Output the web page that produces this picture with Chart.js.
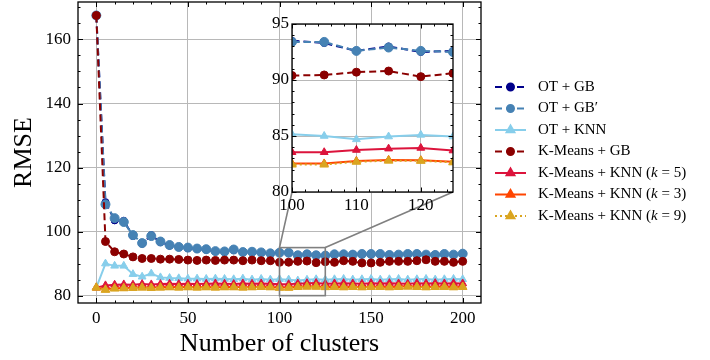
<!DOCTYPE html>
<html>
<head>
<meta charset="utf-8">
<script src="https://cdn.jsdelivr.net/npm/chart.js@4.4.1/dist/chart.umd.min.js"></script>
<style>
    html, body { margin: 0; padding: 0; background: #fff; overflow: hidden; }
    #wrap { position: relative; width: 710px; height: 360px; overflow: hidden; }
    #main { position: absolute; left: 0; top: -4px; }
    #inset { position: absolute; left: 252px; top: 8px; }
</style>
</head>
<body>
<div id="wrap">
    <canvas id="main" width="710" height="364"></canvas>
    <canvas id="inset" width="210" height="212"></canvas>
</div>
<script>
// number of clusters (x values)
const clusters = [0, 5, 10, 15, 20, 25, 30, 35, 40, 45, 50, 55, 60, 65, 70, 75, 80, 85, 90, 95,
    100, 105, 110, 115, 120, 125, 130, 135, 140, 145, 150, 155, 160, 165, 170, 175, 180, 185, 190, 195, 200];

const otGb = [167.5, 109.2, 103.5, 103.4, 98.6, 96.2, 98.9, 96.7, 95.6, 95.1, 94.8, 94.6, 94.3, 93.8, 93.6, 94.2, 93.5, 93.6, 93.4, 93.1,
    93.5, 93.3, 92.6, 93.0, 92.5, 92.6, 92.8, 92.8, 92.9, 92.9, 92.9, 92.9, 92.8, 92.7, 92.9, 92.9, 92.7, 92.8, 92.9, 92.7, 93.0];
const otGbPrime = [167.5, 108.5, 104.2, 103.0, 98.9, 96.4, 98.6, 96.9, 95.8, 95.2, 95.0, 94.7, 94.5, 93.9, 93.8, 94.4, 93.6, 93.7, 93.5, 93.2,
    93.4, 93.4, 92.6, 92.9, 92.6, 92.5, 92.9, 92.9, 92.8, 93.0, 93.0, 93.0, 92.7, 92.8, 93.0, 93.0, 92.8, 92.7, 93.0, 92.8, 93.1];
const otKnn = [82.5, 90.0, 89.3, 89.3, 86.7, 85.9, 86.9, 85.7, 85.5, 85.4, 85.3, 85.3, 85.2, 85.3, 85.2, 85.1, 85.3, 85.0, 85.2, 85.0,
    85.15, 85.0, 84.7, 84.95, 85.1, 84.95, 85.1, 85.2, 85.0, 85.1, 85.2, 85.0, 85.1, 85.2, 85.0, 85.1, 85.2, 85.0, 85.1, 85.2, 85.1];
const kmGb = [167.5, 96.9, 93.7, 93.0, 92.1, 91.6, 91.6, 91.4, 91.4, 91.3, 91.1, 91.0, 91.1, 91.0, 91.1, 91.1, 90.9, 91.1, 90.9, 90.9,
    90.4, 90.45, 90.7, 90.8, 90.3, 90.6, 90.4, 90.9, 90.7, 90.2, 90.2, 90.4, 90.7, 90.7, 90.7, 90.9, 91.2, 90.7, 90.7, 90.4, 90.7];
const kmKnn5 = [82.5, 83.2, 83.4, 83.5, 83.4, 83.6, 83.5, 83.6, 83.7, 83.6, 83.7, 83.6, 83.7, 83.8, 83.7, 83.6, 83.8, 83.7, 83.8, 83.7,
    83.55, 83.55, 83.75, 83.87, 83.93, 83.7, 83.8, 83.9, 83.8, 83.7, 83.9, 83.8, 83.9, 83.8, 83.7, 83.9, 83.8, 83.9, 83.8, 83.9, 83.8];
const kmKnn3 = [82.5, 82.0, 82.3, 82.4, 82.5, 82.6, 82.5, 82.6, 82.7, 82.6, 82.7, 82.6, 82.7, 82.6, 82.7, 82.7, 82.6, 82.7, 82.8, 82.7,
    82.55, 82.55, 82.77, 82.86, 82.83, 82.7, 82.8, 82.7, 82.8, 82.7, 82.8, 82.8, 82.7, 82.8, 82.9, 82.8, 82.7, 82.8, 82.8, 82.7, 82.8];
const kmKnn9 = [82.5, 81.8, 82.2, 82.3, 82.4, 82.5, 82.4, 82.5, 82.6, 82.5, 82.6, 82.5, 82.6, 82.5, 82.6, 82.6, 82.5, 82.6, 82.7, 82.6,
    82.45, 82.45, 82.7, 82.8, 82.78, 82.65, 82.7, 82.6, 82.7, 82.6, 82.7, 82.7, 82.6, 82.7, 82.8, 82.7, 82.6, 82.7, 82.7, 82.6, 82.7];

// tick labels
const xTicks = [0, 50, 100, 150, 200];
const yTicks = [80, 100, 120, 140, 160];
const insetXTicks = [100, 110, 120];
const insetYTicks = [80, 85, 90, 95];

// legend labels (pieces: [text, italic?])
const seriesNames = [
    [['OT + GB']],
    [['OT + GB\u2032']],
    [['OT + KNN']],
    [['K-Means + GB']],
    [['K-Means + KNN ('], ['k', true], [' = 5)']],
    [['K-Means + KNN ('], ['k', true], [' = 3)']],
    [['K-Means + KNN ('], ['k', true], [' = 9)']]
];

const serif = "'Liberation Serif', 'DejaVu Serif', serif";

const series = [
    { values: otGb, color: '#00008B', dash: [7, 4], marker: 'circle', r: 3.5 },
    { values: otGbPrime, color: '#4682B4', dash: [7, 4], marker: 'circle', r: 4.5 },
    { values: otKnn, color: '#87CEEB', dash: [], marker: 'triangle', r: 4.5 },
    { values: kmGb, color: '#8B0000', dash: [7, 4], marker: 'circle', r: 4 },
    { values: kmKnn5, color: '#DC143C', dash: [], marker: 'triangle', r: 4.5 },
    { values: kmKnn3, color: '#FF4500', dash: [], marker: 'triangle', r: 4.5 },
    { values: kmKnn9, color: '#DAA520', dash: [2, 3], marker: 'triangle', r: 5 }
];

function makeDatasets() {
    return series.map((s, i) => ({
        data: clusters.map((c, j) => ({ x: c, y: s.values[j] })),
        borderColor: s.color,
        backgroundColor: s.color,
        borderWidth: 2,
        borderDash: s.dash,
        pointStyle: s.marker,
        pointRadius: s.r,
        pointBackgroundColor: s.color,
        pointBorderColor: s.color,
        pointBorderWidth: 1,
        tension: 0,
        order: series.length - 1 - i // later series on top, like matplotlib
    }));
}

// inward ticks on all four sides + black frame
function inwardTicks(xMinor, yMinor, majorLen, minorLen) {
    return {
        id: 'inwardTicks',
        afterDraw(chart) {
            const { ctx, chartArea: a, scales: { x, y } } = chart;
            ctx.save();
            ctx.strokeStyle = '#000';
            ctx.lineWidth = 1;
            ctx.beginPath();
            const xs = x.ticks.map(t => [t.value, majorLen]).concat(xMinor.map(v => [v, minorLen]));
            xs.forEach(([v, len]) => {
                const px = Math.round(x.getPixelForValue(v)) + 0.5;
                ctx.moveTo(px, a.bottom); ctx.lineTo(px, a.bottom - len);
                ctx.moveTo(px, a.top); ctx.lineTo(px, a.top + len);
            });
            const ys = y.ticks.map(t => [t.value, majorLen]).concat(yMinor.map(v => [v, minorLen]));
            ys.forEach(([v, len]) => {
                const py = Math.round(y.getPixelForValue(v)) + 0.5;
                ctx.moveTo(a.left, py); ctx.lineTo(a.left + len, py);
                ctx.moveTo(a.right, py); ctx.lineTo(a.right - len, py);
            });
            ctx.stroke();
            ctx.lineWidth = 1.3;
            ctx.strokeRect(a.left, a.top, a.right - a.left, a.bottom - a.top);
            ctx.restore();
        }
    };
}

const mainXMinor = [10, 20, 30, 40, 60, 70, 80, 90, 110, 120, 130, 140, 160, 170, 180, 190];
const mainYMinor = [85, 90, 95, 105, 110, 115, 125, 130, 135, 145, 150, 155, 165, 170];
const insetXMinor = [102, 104, 106, 108, 112, 114, 116, 118, 122, 124];
const insetYMinor = [81, 82, 83, 84, 86, 87, 88, 89, 91, 92, 93, 94];

function scaleOpts(min, max, tickVals, fitSize, isX, padding) {
    return {
        type: 'linear', min: min, max: max,
        afterBuildTicks: s => { s.ticks = tickVals.map(v => ({ value: v })); },
        afterFit: s => {
            if (isX) { s.height = fitSize; } else { s.width = fitSize; }
            s.paddingTop = 0; s.paddingBottom = 0; s.paddingLeft = 0; s.paddingRight = 0;
        },
        grid: { color: '#b8b8b8', lineWidth: 1, drawTicks: false },
        border: { display: false },
        ticks: { color: '#000', font: { family: serif, size: 17 }, padding: padding, autoSkip: false, maxRotation: 0 }
    };
}

// inset chart (created first so the main chart can find its corners)
const whiteArea = {
    id: 'whiteArea',
    beforeDraw(chart) {
        const a = chart.chartArea;
        chart.ctx.save();
        chart.ctx.fillStyle = '#fff';
        chart.ctx.fillRect(a.left, a.top, a.right - a.left, a.bottom - a.top);
        chart.ctx.restore();
    }
};

const insetChart = new Chart(document.getElementById('inset'), {
    type: 'line',
    data: { datasets: makeDatasets() },
    options: {
        responsive: false,
        animation: false,
        events: [],
        devicePixelRatio: 1,
        layout: { padding: { top: 16, right: 9, left: 0, bottom: 0 } },
        plugins: { legend: { display: false }, tooltip: { enabled: false } },
        scales: {
            x: scaleOpts(100, 125, insetXTicks, 28, true, 3),
            y: scaleOpts(80, 95, insetYTicks, 40, false, 3)
        }
    },
    plugins: [whiteArea, inwardTicks(insetXMinor, insetYMinor, 4.5, 2.5)]
});

// zoom rectangle + connectors + side legend
const overlay = {
    id: 'overlay',
    afterDatasetsDraw(chart) {
        const { ctx, scales: { x, y } } = chart;
        const l = x.getPixelForValue(100), r = x.getPixelForValue(125);
        const t = y.getPixelForValue(95), b = y.getPixelForValue(80);
        const cv = document.getElementById('inset');
        const dy = cv.offsetTop - chart.canvas.offsetTop;
        const ia = insetChart.chartArea;
        ctx.save();
        ctx.strokeStyle = '#808080';
        ctx.lineWidth = 1.6;
        ctx.strokeRect(l, t, r - l, b - t);
        ctx.beginPath();
        ctx.moveTo(l, t); ctx.lineTo(cv.offsetLeft + ia.left, dy + ia.bottom);
        ctx.moveTo(r, t); ctx.lineTo(cv.offsetLeft + ia.right, dy + ia.bottom);
        ctx.stroke();
        ctx.restore();
    },
    afterDraw(chart) {
        const ctx = chart.ctx;
        const top = 87 - chart.canvas.offsetTop;
        series.forEach((s, i) => {
            const y = top + i * 21.5;
            ctx.save();
            ctx.strokeStyle = s.color;
            ctx.fillStyle = s.color;
            ctx.lineWidth = 2;
            ctx.setLineDash(s.dash);
            ctx.beginPath(); ctx.moveTo(495, y); ctx.lineTo(526, y); ctx.stroke();
            ctx.setLineDash([]);
            Chart.helpers.drawPoint(ctx, { pointStyle: s.marker, radius: s.marker === 'circle' ? 3.5 : 4.5, borderWidth: 1, rotation: 0 }, 510.5, y);
            ctx.fillStyle = '#000';
            ctx.textBaseline = 'middle';
            let tx = 538;
            seriesNames[i].forEach(([txt, it]) => {
                ctx.font = (it ? 'italic ' : '') + '15px ' + serif;
                ctx.fillText(txt, tx, y);
                tx += ctx.measureText(txt).width;
            });
            ctx.restore();
        });
    }
};

const mainX = scaleOpts(-10, 210, xTicks, 57, true, 5);
mainX.title = { display: true, text: 'Number of clusters', color: '#000', font: { family: serif, size: 26 }, padding: { top: 0, bottom: 0 } };
const mainY = scaleOpts(77.7, 171.7, yTicks, 78, false, 7);
mainY.title = { display: true, text: 'RMSE', color: '#000', font: { family: serif, size: 26 }, padding: { top: 9, bottom: 0 } };

const mainChart = new Chart(document.getElementById('main'), {
    type: 'line',
    data: { datasets: makeDatasets() },
    options: {
        responsive: false,
        animation: false,
        events: [],
        devicePixelRatio: 1,
        layout: { padding: { top: 2, right: 229, left: 0, bottom: 0 } },
        plugins: { legend: { display: false }, tooltip: { enabled: false } },
        scales: { x: mainX, y: mainY }
    },
    plugins: [inwardTicks(mainXMinor, mainYMinor, 5, 2.5), overlay]
});
</script>
</body>
</html>
